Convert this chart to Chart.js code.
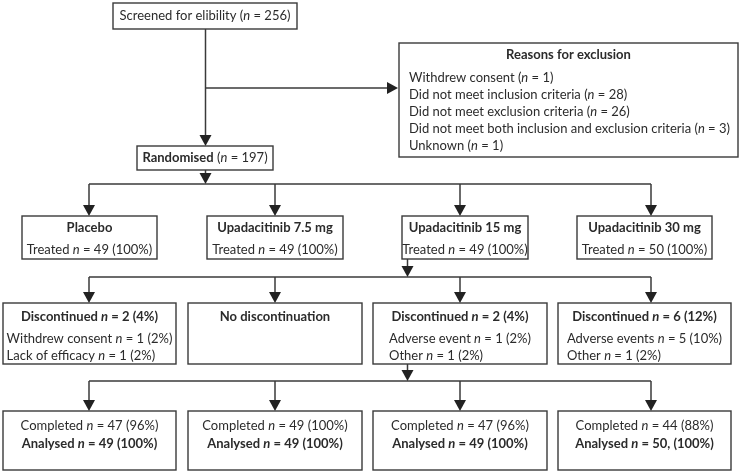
<html lang="en">
<head>
    <meta name="viewport" content="width=device-width, initial-scale=1.0" />
    <title>Patient flow</title>
    <style>
        * {
  padding: 0;
  margin: 0;
  box-sizing: border-box;
}
body {
  background: #ffffff;
}
.wrapper {
  width: 741px;
  height: 473px;
}
    </style>
  </head>
  <body>
    <div class="wrapper">
      <canvas id="flow" width="741" height="473"></canvas>
    </div>
    <script src="https://cdn.jsdelivr.net/npm/chart.js@4.4.1/dist/chart.umd.min.js"></script>

<script>
    // Numbers in the flow
    const screened = 256;
    const randomised = 197;
    const exclusionReasons = ["Withdrew consent", "Did not meet inclusion criteria", "Did not meet exclusion criteria",
        "Did not meet both inclusion and exclusion criteria", "Unknown"];
    const exclusionCounts = [1, 28, 26, 3, 1];

    const arms = ["Placebo", "Upadacitinib 7.5 mg", "Upadacitinib 15 mg", "Upadacitinib 30 mg"];
    const treated = [49, 49, 49, 50];
    const treatedPct = [100, 100, 100, 100];
    const discontinued = [2, 0, 2, 6];
    const discontinuedPct = [4, 0, 4, 12];
    const discReasons = [["Withdrew consent", "Lack of efficacy"], [], ["Adverse event", "Other"], ["Adverse events", "Other"]];
    const discReasonCounts = [[1, 1], [], [1, 1], [5, 1]];
    const discReasonPct = [[2, 2], [], [2, 2], [10, 2]];
    const completed = [47, 49, 47, 44];
    const completedPct = [96, 100, 96, 88];
    const analysed = [49, 49, 49, 50];
    const analysedPct = [100, 100, 100, 100];
    const analysedSep = ["", "", "", ","]; // the last box has a comma in the original

    // Layout (in axis units, the scales run 0..741 and 0..473)
    const layout = {
        screen: { x0: 113, x1: 297, y0: 3, y1: 29 },
        exclusion: { x0: 399, x1: 738, y0: 43, y1: 157, textX: 409, titleY: 55, firstY: 78, step: 17 },
        random: { x0: 137, x1: 273, y0: 146, y1: 170 },
        stem: 205.5,
        branchY: 88,
        armBoxes: [[22, 157], [207, 343], [402, 528], [577, 712]],
        armY: [216, 259],
        lowBoxes: [[3, 176], [188, 362], [373, 547], [558, 731]],
        discY: [303, 364],
        finalY: [411, 470],
        drops: [89, 275, 460, 651],
        rails: [184, 277, 381],
        feedX: 407.5
    };

    const FONT = "Lato, 'Noto Sans', sans-serif";
    const SIZE = 13;
    const BOLD_SIZE = 13;
    const INK = "#2b2b2b";
    const LINE = "#3a3a3a";

    function fontOf(b, i) {
        return (i ? "italic " : "") + (b ? "bold " : "") + (b ? BOLD_SIZE : SIZE) + "px " + FONT;
    }

    // "**bold**" and "*italic*" pieces in a line
    function parse(text, bold) {
        return text.split(/(\*\*[^*]+\*\*|\*[^*]+\*)/).filter(s => s).map(s => {
            if (s.startsWith("**")) return { t: s.slice(2, -2), b: true, i: false };
            if (s.startsWith("*")) return { t: s.slice(1, -1), b: bold, i: true };
            return { t: s, b: bold, i: false };
        });
    }

    function measure(ctx, text, bold) {
        let w = 0;
        parse(text, bold).forEach(p => { ctx.font = fontOf(p.b, p.i); w += ctx.measureText(p.t).width; });
        return w;
    }

    function rich(ctx, text, x, y, center, bold) {
        let cx = center ? x - measure(ctx, text, bold) / 2 : x;
        ctx.fillStyle = INK;
        ctx.textBaseline = "middle";
        ctx.textAlign = "left";
        parse(text, bold).forEach(p => {
            ctx.font = fontOf(p.b, p.i);
            ctx.fillText(p.t, cx, y);
            cx += ctx.measureText(p.t).width;
        });
    }

    const flowPlugin = {
        id: "flow",
        afterDraw(chart) {
            const ctx = chart.ctx;
            const X = v => chart.scales.x.getPixelForValue(v);
            const Y = v => chart.scales.y.getPixelForValue(v);

            const box = (x0, x1, y0, y1) => {
                ctx.strokeStyle = LINE;
                ctx.lineWidth = 1.4;
                ctx.strokeRect(X(x0), Y(y0), X(x1) - X(x0), Y(y1) - Y(y0));
            };
            const line = (xa, ya, xb, yb) => {
                ctx.strokeStyle = LINE;
                ctx.lineWidth = 1.5;
                ctx.beginPath();
                ctx.moveTo(X(xa), Y(ya));
                ctx.lineTo(X(xb), Y(yb));
                ctx.stroke();
            };
            const headDown = (x, y) => {
                ctx.fillStyle = "#222";
                ctx.beginPath();
                ctx.moveTo(X(x), Y(y));
                ctx.lineTo(X(x) - 6, Y(y) - 11);
                ctx.lineTo(X(x) + 6, Y(y) - 11);
                ctx.closePath();
                ctx.fill();
            };
            const headRight = (x, y) => {
                ctx.fillStyle = "#222";
                ctx.beginPath();
                ctx.moveTo(X(x), Y(y));
                ctx.lineTo(X(x) - 11, Y(y) - 6);
                ctx.lineTo(X(x) - 11, Y(y) + 6);
                ctx.closePath();
                ctx.fill();
            };
            const arrowDown = (x, ya, yb) => { line(x, ya, x, yb - 6); headDown(x, yb); };

            const L = layout;
            // Screening
            box(L.screen.x0, L.screen.x1, L.screen.y0, L.screen.y1);
            rich(ctx, "Screened for elibility (*n* = " + screened + ")", X((L.screen.x0 + L.screen.x1) / 2), Y((L.screen.y0 + L.screen.y1) / 2), true, false);
            arrowDown(L.stem, L.screen.y1, L.random.y0);
            line(L.stem, L.branchY, L.exclusion.x0 - 6, L.branchY);
            headRight(L.exclusion.x0 - 1, L.branchY);

            // Exclusion reasons
            const E = L.exclusion;
            box(E.x0, E.x1, E.y0, E.y1);
            rich(ctx, "Reasons for exclusion", X((E.x0 + E.x1) / 2), Y(E.titleY), true, true);
            exclusionReasons.forEach((r, k) => {
                rich(ctx, r + " (*n* = " + exclusionCounts[k] + ")", X(E.textX), Y(E.firstY + k * E.step), false, false);
            });

            // Randomised
            box(L.random.x0, L.random.x1, L.random.y0, L.random.y1);
            rich(ctx, "**Randomised** (*n* = " + randomised + ")", X((L.random.x0 + L.random.x1) / 2), Y((L.random.y0 + L.random.y1) / 2), true, false);
            arrowDown(L.stem, L.random.y1, L.rails[0]);

            // Rails and drops
            const rowTops = [L.armY[0], L.discY[0], L.finalY[0]];
            L.rails.forEach((ry, r) => {
                line(L.drops[0], ry, L.drops[L.drops.length - 1], ry);
                L.drops.forEach(dx => arrowDown(dx, ry, rowTops[r]));
            });
            arrowDown(L.feedX, L.armY[1], L.rails[1]);
            arrowDown(L.feedX, L.discY[1], L.rails[2]);

            arms.forEach((arm, k) => {
                // Treatment arm
                const [a0, a1] = L.armBoxes[k];
                const ac = (a0 + a1) / 2;
                box(a0, a1, L.armY[0], L.armY[1]);
                rich(ctx, arm, X(ac), Y(L.armY[0] + 12), true, true);
                rich(ctx, "Treated *n* = " + treated[k] + " (" + treatedPct[k] + "%)", X(ac), Y(L.armY[0] + 34), true, false);

                // Discontinuations
                const [b0, b1] = L.lowBoxes[k];
                const bc = (b0 + b1) / 2;
                box(b0, b1, L.discY[0], L.discY[1]);
                if (discontinued[k] === 0) {
                    rich(ctx, "No discontinuation", X(bc), Y(L.discY[0] + 14), true, true);
                } else {
                    rich(ctx, "Discontinued *n* = " + discontinued[k] + " (" + discontinuedPct[k] + "%)", X(bc), Y(L.discY[0] + 14), true, true);
                    const rows = discReasons[k].map((r, j) => r + " *n* = " + discReasonCounts[k][j] + " (" + discReasonPct[k][j] + "%)");
                    const w = Math.max(...rows.map(t => measure(ctx, t, false)));
                    rows.forEach((t, j) => rich(ctx, t, X(bc) - w / 2, Y(L.discY[0] + 36 + j * 16.5), false, false));
                }

                // Completion
                box(b0, b1, L.finalY[0], L.finalY[1]);
                rich(ctx, "Completed *n* = " + completed[k] + " (" + completedPct[k] + "%)", X(bc), Y(L.finalY[0] + 15), true, false);
                rich(ctx, "Analysed *n* = " + analysed[k] + analysedSep[k] + " (" + analysedPct[k] + "%)", X(bc), Y(L.finalY[0] + 33), true, true);
            });
        }
    };

    new Chart(document.getElementById("flow"), {
        type: "scatter",
        data: { datasets: [] },
        plugins: [flowPlugin],
        options: {
            responsive: false,
            animation: false,
            layout: { padding: 0 },
            plugins: { legend: { display: false }, tooltip: { enabled: false } },
            scales: {
                x: { type: "linear", min: 0, max: 741, display: false },
                y: { type: "linear", min: 0, max: 473, reverse: true, display: false }
            }
        }
    });
</script>
</body>
</html>
